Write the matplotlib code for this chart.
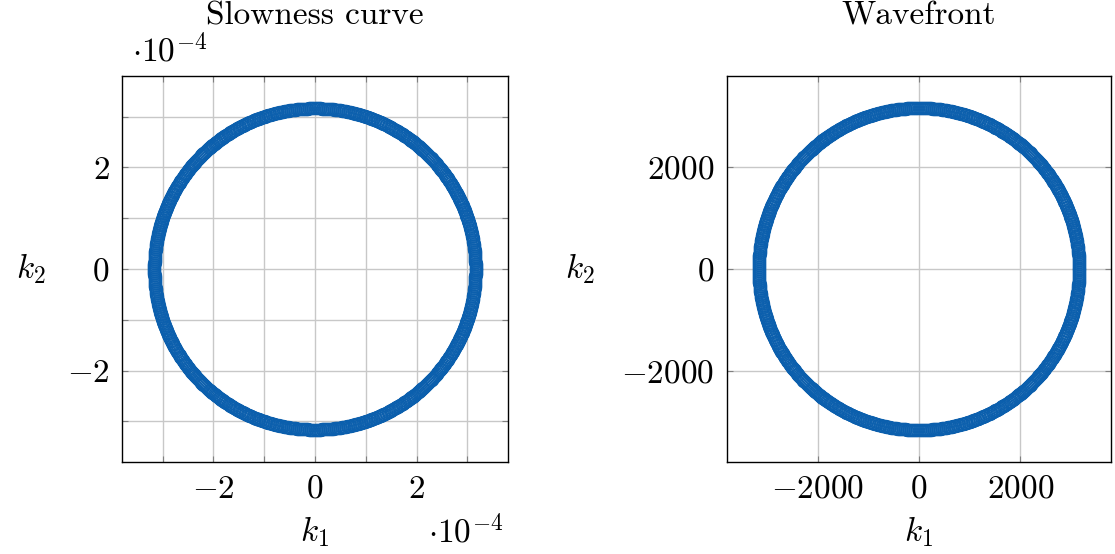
import numpy as np
import matplotlib as mpl

mpl.use("Agg")
import matplotlib.pyplot as plt
from matplotlib.ticker import MultipleLocator

plt.rcParams["mathtext.fontset"] = "cm"
plt.rcParams["font.family"] = ["cmr10", "DejaVu Serif"]
plt.rcParams["axes.formatter.use_mathtext"] = True

# Data: isotropic medium, slowness = 1 / speed
wave_speed = 3162.0  # m/s
slowness = 1.0 / wave_speed  # ~3.162e-4
theta = np.linspace(0.0, 2.0 * np.pi, 1500)

slow_k1 = slowness * np.cos(theta)
slow_k2 = slowness * np.sin(theta)
wave_k1 = wave_speed * np.cos(theta)
wave_k2 = wave_speed * np.sin(theta)

slow_ticks = [-2, 0, 2]
wave_ticks = [-2000, 0, 2000]

W, H = 1115, 554
fig = plt.figure(figsize=(W / 100, H / 100), dpi=100)

BLUE = "#0b5fad"
FS = 24


def style_axes(ax, ylabelpad):
    ax.tick_params(which="both", direction="in", top=True, right=True,
                   length=4, width=0.8, color="#808080", labelsize=FS, pad=9)
    ax.grid(which="both", color="#c8c8c8", linewidth=1.0)
    ax.set_axisbelow(True)
    for sp in ax.spines.values():
        sp.set_linewidth(1.0)
    ax.set_xlabel(r"$k_1$", fontsize=FS, labelpad=8)
    ax.set_ylabel(r"$k_2$", fontsize=FS, rotation=0, labelpad=ylabelpad, va="center")


def fmt(v):
    return r"$%d$" % v


def ring(ax, x, y):
    ax.plot(x, y, "o", ms=9, mfc="none", mec=BLUE, mew=0.55)


# Left: slowness curve (plotted in units of 1e-4)
ax1 = fig.add_axes([122 / W, (H - 462) / H, 386 / W, 386 / H])
ring(ax1, slow_k1 * 1e4, slow_k2 * 1e4)
ax1.set_xlim(-3.8, 3.8)
ax1.set_ylim(-3.8, 3.8)
ax1.set_xticks(slow_ticks)
ax1.set_yticks(slow_ticks)
ax1.set_xticklabels([fmt(v) for v in slow_ticks])
ax1.set_yticklabels([fmt(v) for v in slow_ticks])
ax1.xaxis.set_minor_locator(MultipleLocator(1))
ax1.yaxis.set_minor_locator(MultipleLocator(1))
style_axes(ax1, 26)

# Right: wavefront
ax2 = fig.add_axes([727 / W, (H - 462) / H, 384 / W, 386 / H])
ring(ax2, wave_k1, wave_k2)
ax2.set_xlim(-3790, 3790)
ax2.set_ylim(-3790, 3790)
ax2.set_xticks(wave_ticks)
ax2.set_yticks(wave_ticks)
ax2.set_xticklabels([fmt(v) for v in wave_ticks])
ax2.set_yticklabels([fmt(v) for v in wave_ticks])
style_axes(ax2, 30)

# axis multipliers and titles
fig.text(132 / W, 1 - 62 / H, r"$\cdot 10^{-4}$", fontsize=FS, ha="left", va="baseline")
fig.text(428 / W, 1 - 543 / H, r"$\cdot 10^{-4}$", fontsize=FS, ha="left", va="baseline")
fig.text(315 / W, 1 - 16 / H, "Slowness curve", fontsize=FS, ha="center", va="center")
fig.text(919 / W, 1 - 16 / H, "Wavefront", fontsize=FS, ha="center", va="center")

fig.savefig("out.png", dpi=100)
plt.close(fig)
